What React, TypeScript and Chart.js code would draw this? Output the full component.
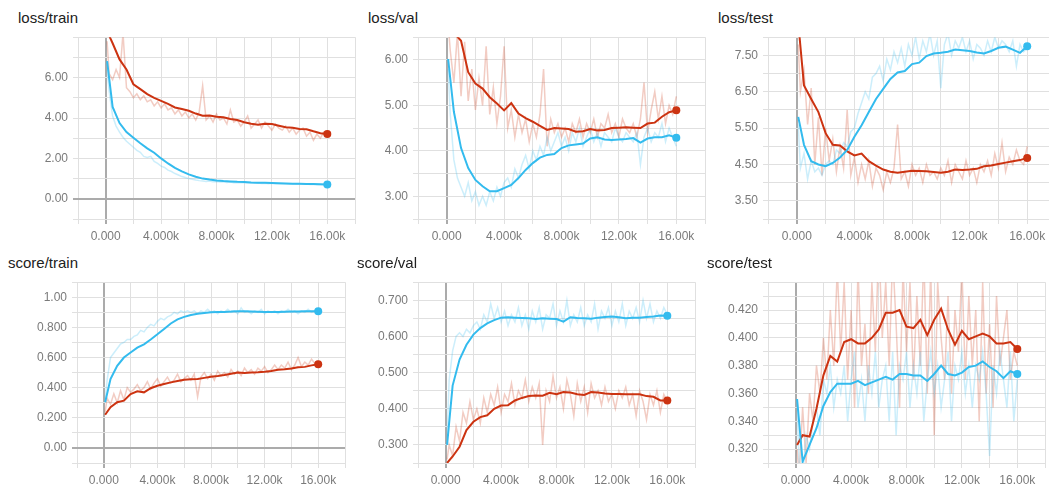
import React, { useEffect, useRef } from "react";
import { Chart, registerables } from "chart.js";
Chart.register(...registerables);

const RED = "#cc3311";
const BLUE = "#33bbee";
const RED_RAW = "rgba(204,51,17,0.25)";
const BLUE_RAW = "rgba(51,187,238,0.25)";

// x steps
const smoothSteps = [
  100, 500, 1000, 1500, 2000, 2500, 3000, 3500, 4000, 4500, 5000,
  5500, 6000, 6500, 7000, 7500, 8000, 8500, 9000, 9500, 10000, 10500,
  11000, 11500, 12000, 12500, 13000, 13500, 14000, 14500, 15000, 15500, 16000,
];
const rawSteps = [
  100, 250, 500, 750, 1000, 1250, 1500, 1750, 2000, 2250, 2500, 2750, 3000,
  3250, 3500, 3750, 4000, 4250, 4500, 4750, 5000, 5250, 5500, 5750, 6000, 6250,
  6500, 6750, 7000, 7250, 7500, 7750, 8000, 8250, 8500, 8750, 9000, 9250, 9500,
  9750, 10000, 10250, 10500, 10750, 11000, 11250, 11500, 11750, 12000, 12250, 12500, 12750,
  13000, 13250, 13500, 13750, 14000, 14250, 14500, 14750, 15000, 15250, 15500, 15750, 16000,
];
const xTickValues = [-2000, 0, 2000, 4000, 6000, 8000, 10000, 12000, 14000, 16000, 18000];
const xTickLabels = ["", "0.000", "", "4.000k", "", "8.000k", "", "12.00k", "", "16.00k", ""];

// ---- loss/train ----
const lossTrainBlue = [
  6.82, 4.55, 3.75, 3.3, 3.02, 2.75, 2.5, 2.28, 2.0, 1.75, 1.53,
  1.36, 1.21, 1.09, 1.0, 0.95, 0.91, 0.88, 0.86, 0.84, 0.83, 0.81,
  0.8, 0.79, 0.78, 0.77, 0.76, 0.75, 0.74, 0.73, 0.73, 0.72, 0.71,
];
const lossTrainBlueRaw = [
  6.4, 5.3, 4.1, 3.6, 3.3, 3.05, 2.85, 2.7, 2.55, 2.4, 2.3, 2.1, 2.05,
  2.1, 1.85, 1.75, 1.62, 1.55, 1.42, 1.35, 1.25, 1.18, 1.1, 1.05, 1.0, 0.97,
  0.93, 0.9, 0.88, 0.86, 0.88, 0.84, 0.85, 0.83, 0.84, 0.81, 0.83, 0.8, 0.81,
  0.79, 0.8, 0.78, 0.79, 0.77, 0.78, 0.76, 0.77, 0.75, 0.77, 0.74, 0.75, 0.74,
  0.75, 0.73, 0.74, 0.72, 0.73, 0.72, 0.73, 0.71, 0.72, 0.7, 0.71, 0.7, 0.7,
];
const lossTrainRed = [
  8.3, 7.7, 6.9, 6.4, 5.67, 5.43, 5.18, 5.0, 4.85, 4.7, 4.52,
  4.45, 4.36, 4.22, 4.11, 4.12, 4.06, 4.04, 3.95, 3.9, 3.79, 3.72,
  3.67, 3.72, 3.7, 3.62, 3.54, 3.52, 3.46, 3.44, 3.34, 3.25, 3.21,
];
const lossTrainRedRaw = [
  7.8, 6.2, 5.9, 6.4, 6.0, 8.2, 5.5, 5.3, 5.0, 5.2, 4.9, 5.1, 4.8,
  4.9, 4.6, 4.8, 4.5, 4.7, 4.4, 4.5, 4.2, 4.4, 4.1, 4.3, 4.0, 4.2,
  3.9, 4.3, 5.6, 3.9, 4.1, 3.8, 4.2, 3.9, 4.0, 3.7, 4.4, 3.8, 3.9,
  3.6, 3.8, 4.1, 3.5, 3.7, 3.9, 3.5, 3.8, 3.6, 3.4, 3.7, 3.5, 3.4,
  3.6, 3.3, 3.5, 3.2, 3.4, 3.5, 3.1, 3.3, 2.9, 3.2, 3.0, 3.3, 3.2,
];
const lossTrainYTicks = [-1, 0, 1, 2, 3, 4, 5, 6, 7, 8];
const lossTrainYLabels = ["", "0.00", "", "2.00", "", "4.00", "", "6.00", "", ""];

// ---- loss/val ----
const lossValBlue = [
  6.02, 4.86, 4.06, 3.62, 3.36, 3.22, 3.11, 3.11, 3.18, 3.25, 3.4,
  3.58, 3.73, 3.85, 3.91, 3.93, 4.06, 4.12, 4.14, 4.16, 4.27, 4.3,
  4.25, 4.24, 4.25, 4.26, 4.28, 4.18, 4.27, 4.3, 4.3, 4.34, 4.29,
];
const lossValBlueRaw = [
  5.8, 4.8, 3.8, 3.4, 3.2, 3.0, 3.3, 2.9, 3.1, 2.8, 3.0, 2.8, 3.1,
  2.9, 3.2, 3.0, 3.3, 3.4, 3.2, 3.6, 3.4, 3.7, 3.9, 3.6, 4.0, 3.8,
  4.1, 3.9, 4.3, 4.0, 4.2, 4.4, 4.1, 4.3, 4.0, 4.4, 4.2, 4.5, 4.1,
  4.3, 4.5, 4.2, 4.4, 4.1, 4.4, 4.3, 4.2, 4.5, 4.3, 4.2, 4.4, 4.3,
  4.2, 4.4, 3.7, 4.3, 4.5, 4.2, 4.4, 4.3, 4.6, 4.2, 4.5, 4.3, 4.1,
];
const lossValRed = [
  6.7, 6.6, 6.42, 5.73, 5.48, 5.37, 5.18, 5.04, 4.89, 5.05, 4.82,
  4.72, 4.64, 4.55, 4.46, 4.5, 4.49, 4.48, 4.42, 4.43, 4.48, 4.45,
  4.46, 4.5, 4.51, 4.52, 4.51, 4.5, 4.6, 4.62, 4.75, 4.85, 4.89,
];
const lossValRedRaw = [
  6.8, 6.2, 5.5, 6.6, 5.2, 6.4, 5.1, 5.8, 4.9, 5.6, 5.0, 6.3, 4.8,
  5.4, 4.6, 5.2, 6.3, 4.5, 4.9, 4.3, 4.8, 4.4, 4.7, 4.2, 4.6, 4.3,
  4.8, 5.8, 4.1, 4.7, 4.4, 4.6, 4.3, 4.5, 4.2, 4.6, 4.4, 4.7, 4.3,
  4.6, 4.4, 4.7, 4.3, 4.6, 4.5, 4.8, 4.4, 4.6, 4.3, 4.7, 4.5, 4.4,
  4.6, 4.3, 4.7, 5.5, 4.4, 4.9, 5.3, 4.7, 5.2, 4.6, 5.0, 4.8, 5.2,
];
const lossValYTicks = [2.5, 3, 3.5, 4, 4.5, 5, 5.5, 6, 6.5];
const lossValYLabels = ["", "3.00", "", "4.00", "", "5.00", "", "6.00", ""];

// ---- loss/test ----
const lossTestBlue = [
  5.81, 5.04, 4.59, 4.5, 4.45, 4.54, 4.69, 4.9, 5.26, 5.58, 5.94,
  6.3, 6.58, 6.85, 7.03, 7.07, 7.26, 7.3, 7.48, 7.55, 7.57, 7.6,
  7.66, 7.64, 7.62, 7.58, 7.55, 7.62, 7.71, 7.74, 7.66, 7.57, 7.75,
];
const lossTestBlueRaw = [
  5.6, 4.4, 4.8, 4.1, 4.6, 4.3, 4.4, 4.2, 4.5, 4.6, 4.5, 4.9, 4.8,
  5.1, 5.0, 5.4, 5.5, 5.9, 6.2, 6.5, 6.3, 6.9, 7.0, 7.2, 6.8, 7.4,
  7.1, 7.6, 7.3, 7.7, 7.2, 7.8, 7.5, 8.0, 7.4, 7.9, 7.6, 8.1, 7.5,
  7.9, 6.6, 7.8, 8.1, 7.5, 7.9, 7.7, 8.0, 7.6, 7.9, 7.4, 7.8, 7.7,
  7.5, 7.9, 7.6, 8.0, 7.7, 7.9, 7.8, 7.6, 7.9, 7.2, 7.8, 7.6, 7.7,
];
const lossTestRed = [
  8.4, 6.67, 6.3, 5.94, 5.36, 5.04, 5.02, 4.86, 4.75, 4.8, 4.59,
  4.47, 4.36, 4.3, 4.27, 4.3, 4.33, 4.32, 4.31, 4.29, 4.27, 4.3,
  4.36, 4.35, 4.36, 4.38, 4.45, 4.47, 4.51, 4.55, 4.59, 4.62, 4.68,
];
const lossTestRedRaw = [
  7.8, 6.5, 7.1, 5.6, 6.6, 4.5, 5.8, 4.2, 5.5, 4.6, 5.2, 4.3, 5.0,
  4.4, 6.0, 4.2, 4.7, 4.0, 4.5, 4.1, 4.6, 3.9, 4.4, 4.2, 3.8, 4.3,
  4.0, 4.4, 5.6, 4.1, 4.3, 3.9, 4.5, 4.2, 4.4, 4.0, 4.5, 4.2, 4.3,
  4.1, 4.4, 4.2, 4.6, 4.0, 4.5, 4.3, 4.1, 4.6, 4.2, 4.4, 4.0, 4.5,
  4.3, 4.6, 4.2, 4.8, 4.4, 5.1, 4.3, 4.7, 4.5, 4.9, 4.6, 4.5, 5.0,
];
const lossTestYTicks = [3, 3.5, 4, 4.5, 5, 5.5, 6, 6.5, 7, 7.5, 8];
const lossTestYLabels = ["", "3.50", "", "4.50", "", "5.50", "", "6.50", "", "7.50", ""];

// ---- score/train ----
const scoreTrainBlue = [
  0.303, 0.457, 0.545, 0.6, 0.633, 0.666, 0.688, 0.72, 0.754, 0.79, 0.826,
  0.853, 0.87, 0.882, 0.89, 0.895, 0.9, 0.902, 0.903, 0.905, 0.908, 0.907,
  0.906, 0.904, 0.902, 0.903, 0.903, 0.904, 0.905, 0.906, 0.907, 0.907, 0.908,
];
const scoreTrainBlueRaw = [
  0.32, 0.45, 0.6, 0.63, 0.66, 0.69, 0.7, 0.72, 0.72, 0.74, 0.75, 0.78, 0.77,
  0.8, 0.82, 0.81, 0.84, 0.86, 0.85, 0.87, 0.88, 0.9, 0.89, 0.91, 0.9, 0.91,
  0.9, 0.91, 0.89, 0.91, 0.9, 0.92, 0.9, 0.91, 0.89, 0.91, 0.9, 0.92, 0.9,
  0.91, 0.89, 0.93, 0.9, 0.91, 0.89, 0.91, 0.9, 0.92, 0.89, 0.91, 0.9, 0.91,
  0.89, 0.91, 0.9, 0.92, 0.9, 0.91, 0.89, 0.91, 0.9, 0.92, 0.9, 0.91, 0.9,
];
const scoreTrainRed = [
  0.22, 0.27, 0.303, 0.314, 0.358, 0.376, 0.369, 0.396, 0.413, 0.424, 0.435,
  0.444, 0.453, 0.456, 0.457, 0.465, 0.473, 0.478, 0.484, 0.492, 0.5, 0.498,
  0.5, 0.502, 0.505, 0.51, 0.519, 0.522, 0.527, 0.535, 0.538, 0.548, 0.556,
];
const scoreTrainRedRaw = [
  0.24, 0.33, 0.29, 0.36, 0.3, 0.38, 0.32, 0.4, 0.37, 0.39, 0.42, 0.38, 0.4,
  0.44, 0.39, 0.43, 0.46, 0.41, 0.44, 0.47, 0.43, 0.45, 0.49, 0.44, 0.46, 0.48,
  0.45, 0.49, 0.34, 0.47, 0.5, 0.46, 0.49, 0.45, 0.51, 0.48, 0.5, 0.47, 0.52,
  0.49, 0.51, 0.48, 0.53, 0.5, 0.52, 0.49, 0.53, 0.51, 0.54, 0.5, 0.52, 0.55,
  0.52, 0.55, 0.53, 0.57, 0.52, 0.55, 0.6, 0.54, 0.57, 0.55, 0.59, 0.56, 0.58,
];
const scoreTrainYTicks = [-0.1, 0, 0.1, 0.2, 0.3, 0.4, 0.5, 0.6, 0.7, 0.8, 0.9, 1.0, 1.1];
const scoreTrainYLabels = ["", "0.00", "", "0.200", "", "0.400", "", "0.600", "", "0.800", "", "1.00", ""];

// ---- score/val ----
const scoreValBlue = [
  0.3, 0.464, 0.536, 0.577, 0.605, 0.623, 0.636, 0.645, 0.652, 0.653, 0.652,
  0.651, 0.65, 0.648, 0.65, 0.649, 0.648, 0.641, 0.653, 0.651, 0.65, 0.649,
  0.652, 0.654, 0.655, 0.653, 0.65, 0.652, 0.652, 0.654, 0.655, 0.658, 0.657,
];
const scoreValBlueRaw = [
  0.32, 0.48, 0.56, 0.6, 0.61, 0.6, 0.62, 0.61, 0.63, 0.64, 0.62, 0.66, 0.64,
  0.69, 0.65, 0.68, 0.64, 0.67, 0.63, 0.66, 0.64, 0.68, 0.63, 0.66, 0.62, 0.67,
  0.64, 0.68, 0.62, 0.66, 0.65, 0.69, 0.63, 0.67, 0.64, 0.7, 0.63, 0.66, 0.64,
  0.68, 0.63, 0.66, 0.64, 0.69, 0.62, 0.67, 0.65, 0.68, 0.63, 0.67, 0.64, 0.69,
  0.63, 0.67, 0.65, 0.68, 0.64, 0.7, 0.65, 0.69, 0.64, 0.67, 0.65, 0.68, 0.66,
];
const scoreValRed = [
  0.25, 0.268, 0.295, 0.341, 0.364, 0.377, 0.382, 0.4, 0.409, 0.41, 0.423,
  0.43, 0.435, 0.437, 0.436, 0.444, 0.44, 0.446, 0.445, 0.44, 0.438, 0.446,
  0.445, 0.442, 0.441, 0.441, 0.44, 0.44, 0.44, 0.435, 0.433, 0.423, 0.423,
];
const scoreValRedRaw = [
  0.26, 0.3, 0.27, 0.35, 0.31, 0.39, 0.36, 0.42, 0.37, 0.4, 0.36, 0.43, 0.39,
  0.44, 0.41, 0.46, 0.39, 0.44, 0.42, 0.47, 0.41, 0.45, 0.43, 0.48, 0.42, 0.46,
  0.43, 0.47, 0.3, 0.45, 0.42, 0.49, 0.43, 0.46, 0.4, 0.48, 0.44, 0.38, 0.47,
  0.42, 0.46, 0.39, 0.47, 0.43, 0.45, 0.41, 0.46, 0.42, 0.44, 0.4, 0.45, 0.43,
  0.46, 0.41, 0.44, 0.38, 0.45, 0.42, 0.37, 0.44, 0.41, 0.45, 0.39, 0.44, 0.42,
];
const scoreValYTicks = [0.25, 0.3, 0.35, 0.4, 0.45, 0.5, 0.55, 0.6, 0.65, 0.7, 0.75];
const scoreValYLabels = ["", "0.300", "", "0.400", "", "0.500", "", "0.600", "", "0.700", ""];

// ---- score/test ----
const scoreTestBlue = [
  0.356, 0.311, 0.323, 0.335, 0.351, 0.361, 0.367, 0.367, 0.367, 0.369, 0.366,
  0.368, 0.37, 0.372, 0.37, 0.374, 0.374, 0.373, 0.373, 0.369, 0.374, 0.38,
  0.374, 0.373, 0.375, 0.379, 0.38, 0.383, 0.379, 0.376, 0.371, 0.376, 0.374,
];
const scoreTestBlueRaw = [
  0.35, 0.31, 0.3, 0.33, 0.32, 0.34, 0.35, 0.33, 0.37, 0.36, 0.38, 0.35, 0.37,
  0.36, 0.38, 0.34, 0.37, 0.39, 0.35, 0.37, 0.34, 0.38, 0.36, 0.39, 0.35, 0.37,
  0.38, 0.34, 0.39, 0.33, 0.38, 0.37, 0.39, 0.35, 0.38, 0.36, 0.39, 0.34, 0.37,
  0.39, 0.36, 0.38, 0.35, 0.37, 0.39, 0.34, 0.38, 0.37, 0.39, 0.36, 0.38, 0.35,
  0.38, 0.37, 0.39, 0.36, 0.315, 0.38, 0.36, 0.39, 0.37, 0.35, 0.39, 0.34, 0.37,
];
const scoreTestRed = [
  0.323, 0.33, 0.329, 0.349, 0.373, 0.387, 0.383, 0.397, 0.399, 0.396, 0.396,
  0.4, 0.406, 0.418, 0.418, 0.42, 0.408, 0.407, 0.413, 0.402, 0.413, 0.421,
  0.406, 0.395, 0.405, 0.399, 0.401, 0.403, 0.401, 0.396, 0.396, 0.397, 0.392,
];
const scoreTestRedRaw = [
  0.32, 0.3, 0.35, 0.31, 0.36, 0.34, 0.38, 0.36, 0.4, 0.37, 0.42, 0.38, 0.45,
  0.39, 0.44, 0.37, 0.42, 0.35, 0.45, 0.38, 0.41, 0.36, 0.44, 0.39, 0.47, 0.4,
  0.44, 0.38, 0.46, 0.41, 0.35, 0.45, 0.39, 0.44, 0.37, 0.43, 0.38, 0.46, 0.36,
  0.45, 0.33, 0.44, 0.4, 0.37, 0.43, 0.36, 0.42, 0.39, 0.45, 0.37, 0.43, 0.38,
  0.42, 0.34, 0.44, 0.36, 0.41, 0.35, 0.43, 0.38, 0.4, 0.42, 0.37, 0.39, 0.38,
];
const scoreTestYTicks = [0.31, 0.32, 0.33, 0.34, 0.35, 0.36, 0.37, 0.38, 0.39, 0.4, 0.41, 0.42, 0.43, 0.44];
const scoreTestYLabels = ["", "0.320", "", "0.340", "", "0.360", "", "0.380", "", "0.400", "", "0.420", "", ""];

const titles = ["loss/train", "loss/val", "loss/test", "score/train", "score/val", "score/test"];

// layout constants
const YW = 60, PT = 10, XH = 30, PR = 4;
const FONT = "'Liberation Sans', Arial, sans-serif";

type Spec = {
  title: string;
  titleX: number;
  titleY: number;
  plot: { l: number; r: number; t: number; b: number };
  yTicks: number[];
  yLabels: string[];
  blue: number[];
  blueRaw: number[];
  red: number[];
  redRaw: number[];
};

const specs: Spec[] = [
  { title: titles[0], titleX: 18, titleY: 10, plot: { l: 78, r: 356, t: 35, b: 219 }, yTicks: lossTrainYTicks, yLabels: lossTrainYLabels, blue: lossTrainBlue, blueRaw: lossTrainBlueRaw, red: lossTrainRed, redRaw: lossTrainRedRaw },
  { title: titles[1], titleX: 368, titleY: 10, plot: { l: 418, r: 706, t: 35, b: 219 }, yTicks: lossValYTicks, yLabels: lossValYLabels, blue: lossValBlue, blueRaw: lossValBlueRaw, red: lossValRed, redRaw: lossValRedRaw },
  { title: titles[2], titleX: 718, titleY: 10, plot: { l: 768, r: 1057, t: 35, b: 219 }, yTicks: lossTestYTicks, yLabels: lossTestYLabels, blue: lossTestBlue, blueRaw: lossTestBlueRaw, red: lossTestRed, redRaw: lossTestRedRaw },
  { title: titles[3], titleX: 8, titleY: 255, plot: { l: 77, r: 346, t: 280, b: 463 }, yTicks: scoreTrainYTicks, yLabels: scoreTrainYLabels, blue: scoreTrainBlue, blueRaw: scoreTrainBlueRaw, red: scoreTrainRed, redRaw: scoreTrainRedRaw },
  { title: titles[4], titleX: 357, titleY: 255, plot: { l: 418, r: 696, t: 280, b: 463 }, yTicks: scoreValYTicks, yLabels: scoreValYLabels, blue: scoreValBlue, blueRaw: scoreValBlueRaw, red: scoreValRed, redRaw: scoreValRedRaw },
  { title: titles[5], titleX: 707, titleY: 255, plot: { l: 768, r: 1046, t: 280, b: 463 }, yTicks: scoreTestYTicks, yLabels: scoreTestYLabels, blue: scoreTestBlue, blueRaw: scoreTestBlueRaw, red: scoreTestRed, redRaw: scoreTestRedRaw },
];

const toPts = (steps: number[], vals: number[]) => steps.map((s, i) => ({ x: s, y: vals[i] }));

function Panel({ spec }: { spec: Spec }) {
  const ref = useRef<HTMLCanvasElement | null>(null);
  const { plot } = spec;
  const width = plot.r - plot.l + YW + PR;
  const height = plot.b - plot.t + PT + XH;
  useEffect(() => {
    if (!ref.current) return;
    const lastIdx = smoothSteps.length - 1;
    const gridColor = (ctx: any) => (ctx.tick && Math.abs(ctx.tick.value) < 1e-9 ? "#ababab" : "#e0e0e0");
    const gridWidth = (ctx: any) => (ctx.tick && Math.abs(ctx.tick.value) < 1e-9 ? 2 : 1);
    const smoothDs = (vals: number[], color: string, order: number) => ({
      data: toPts(smoothSteps, vals),
      borderColor: color,
      backgroundColor: color,
      borderWidth: 2,
      pointRadius: (c: any) => (c.dataIndex === lastIdx ? 4 : 0),
      pointBackgroundColor: color,
      pointBorderWidth: 0,
      pointHoverRadius: 0,
      tension: 0,
      fill: false,
      order,
    });
    const rawDs = (vals: number[], color: string, order: number) => ({
      data: toPts(rawSteps, vals),
      borderColor: color,
      borderWidth: 1.5,
      pointRadius: 0,
      tension: 0,
      fill: false,
      order,
    });
    const chart = new Chart(ref.current, {
      type: "line",
      data: {
        datasets: [
          rawDs(spec.redRaw, RED_RAW, 4),
          rawDs(spec.blueRaw, BLUE_RAW, 3),
          smoothDs(spec.red, RED, 2),
          smoothDs(spec.blue, BLUE, 1),
        ] as any,
      },
      options: {
        responsive: false,
        maintainAspectRatio: false,
        animation: false,
        events: [],
        layout: { autoPadding: false, padding: { left: 0, top: PT, right: PR, bottom: 0 } } as any,
        plugins: { legend: { display: false }, tooltip: { enabled: false }, title: { display: false } },
        scales: {
          x: {
            type: "linear",
            min: xTickValues[0],
            max: xTickValues[xTickValues.length - 1],
            afterBuildTicks: (s: any) => {
              s.ticks = xTickValues.map((v) => ({ value: v }));
            },
            afterFit: (s: any) => {
              s.height = XH;
            },
            ticks: {
              autoSkip: false,
              maxRotation: 0,
              minRotation: 0,
              padding: 5,
              color: "#7a7a7a",
              font: { family: FONT, size: 12 },
              callback: (_v: any, i: number) => xTickLabels[i],
            },
            grid: { color: gridColor, lineWidth: gridWidth, tickLength: 5, drawTicks: true },
            border: { display: false },
          },
          y: {
            type: "linear",
            min: spec.yTicks[0],
            max: spec.yTicks[spec.yTicks.length - 1],
            afterBuildTicks: (s: any) => {
              s.ticks = spec.yTicks.map((v) => ({ value: v }));
            },
            afterFit: (s: any) => {
              s.width = YW;
            },
            ticks: {
              autoSkip: false,
              padding: 5,
              color: "#7a7a7a",
              font: { family: FONT, size: 12 },
              callback: (_v: any, i: number) => spec.yLabels[i],
            },
            grid: { color: gridColor, lineWidth: gridWidth, tickLength: 5, drawTicks: true },
            border: { display: false },
          },
        },
      } as any,
    });
    return () => chart.destroy();
  }, []);
  return (
    <>
      <div
        style={{
          position: "absolute",
          left: spec.titleX,
          top: spec.titleY,
          font: `15px ${FONT}`,
          lineHeight: "15px",
          color: "#212121",
          whiteSpace: "nowrap",
        }}
      >
        {spec.title}
      </div>
      <canvas
        ref={ref}
        width={width}
        height={height}
        style={{ position: "absolute", left: plot.l - YW, top: plot.t - PT, width, height }}
      />
    </>
  );
}

export default function App() {
  return (
    <div
      style={{
        position: "fixed",
        left: 0,
        top: 0,
        width: 1049,
        height: 487,
        overflow: "hidden",
        background: "#ffffff",
      }}
    >
      {specs.map((s, i) => (
        <Panel key={i} spec={s} />
      ))}
    </div>
  );
}
